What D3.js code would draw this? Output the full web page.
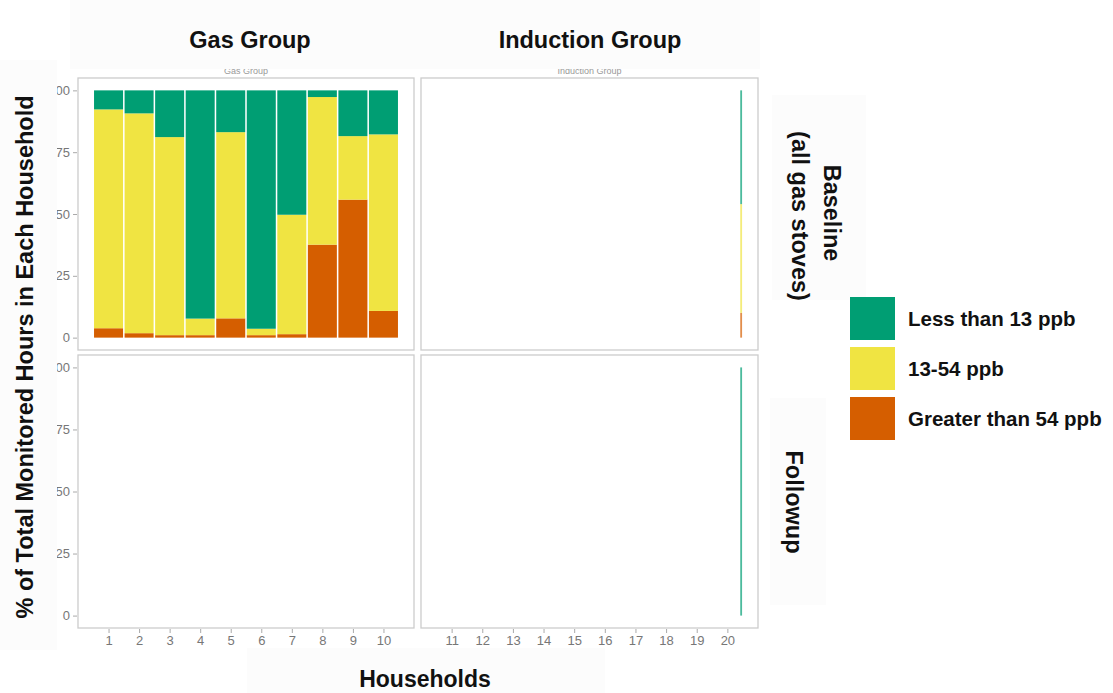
<!DOCTYPE html>
<html>
<head>
<meta charset="utf-8">
<script src="https://cdn.jsdelivr.net/npm/d3@7"></script>
<style>
  body { margin: 0; background: #fff; }
  svg { display: block; font-family: "Liberation Sans", Arial, sans-serif; }
</style>
</head>
<body>
<svg id="chart" width="1113" height="693"></svg>
<script>
// values (percent of monitored hours)
const GAS_HOUSES = [1, 2, 3, 4, 5, 6, 7, 8, 9, 10];
const GAS_LOW  = [7.7, 9.3, 18.9, 92.3, 16.9, 96.4, 50.3, 2.7, 18.5, 17.8];
const GAS_MID  = [88.5, 88.9, 80.1, 6.7, 75.3, 2.6, 48.3, 59.7, 25.7, 71.4];
const GAS_HIGH = [3.8, 1.8, 1.0, 1.0, 7.8, 1.0, 1.4, 37.6, 55.8, 10.8];

const IND_HOUSES = [20.45];
const IND_BASE_LOW = [46], IND_BASE_MID = [44], IND_BASE_HIGH = [10];
const IND_FOLLOW_LOW = [100], IND_FOLLOW_MID = [0], IND_FOLLOW_HIGH = [0];

const GAS_TICKS = [1, 2, 3, 4, 5, 6, 7, 8, 9, 10];
const IND_TICKS = [11, 12, 13, 14, 15, 16, 17, 18, 19, 20];
const Y_TICKS = [0, 25, 50, 75, 100];

const LEVELS = ["Less than 13 ppb", "13-54 ppb", "Greater than 54 ppb"];
const LEVEL_KEYS = ["low", "mid", "high"];
const COLORS = ["#009E73", "#F0E442", "#D55E00"];

const color = d3.scaleOrdinal().domain(LEVEL_KEYS).range(COLORS);

function rows(houses, low, mid, high) {
    return houses.map((h, i) => ({ house: h, low: low[i], mid: mid[i], high: high[i] }));
}

const panels = [
    { data: rows(GAS_HOUSES, GAS_LOW, GAS_MID, GAS_HIGH), x0: 78, x1: 414, y0: 78, y1: 350,
      domain: [0, 11], barW: 0.95, left: true, bottom: false, ticks: GAS_TICKS, strip: "Gas Group", alpha: 1 },
    { data: rows(IND_HOUSES, IND_BASE_LOW, IND_BASE_MID, IND_BASE_HIGH), x0: 421, x1: 758, y0: 78, y1: 350,
      domain: [10, 21], barW: 0.06, left: false, bottom: false, ticks: IND_TICKS, strip: "Induction Group", alpha: 0.7 },
    { data: [], x0: 78, x1: 414, y0: 355, y1: 628,
      domain: [0, 11], barW: 0.95, left: true, bottom: true, ticks: GAS_TICKS, alpha: 1 },
    { data: rows(IND_HOUSES, IND_FOLLOW_LOW, IND_FOLLOW_MID, IND_FOLLOW_HIGH), x0: 421, x1: 758, y0: 355, y1: 628,
      domain: [10, 21], barW: 0.06, left: false, bottom: true, ticks: IND_TICKS, alpha: 0.7 }
];

const svg = d3.select("#chart");
const stack = d3.stack().keys(["high", "mid", "low"]);

panels.forEach(p => {
    const x = d3.scaleLinear().domain(p.domain).range([p.x0, p.x1]);
    const y = d3.scaleLinear().domain([-5, 105]).range([p.y1, p.y0]);
    const g = svg.append("g");

    g.append("rect")
        .attr("x", p.x0).attr("y", p.y0)
        .attr("width", p.x1 - p.x0).attr("height", p.y1 - p.y0)
        .attr("fill", "#fff");

    const series = stack(p.data);
    g.selectAll("g.layer")
        .data(series)
        .join("g")
        .attr("class", "layer")
        .attr("fill", d => color(d.key))
        .attr("fill-opacity", p.alpha)
        .selectAll("rect")
        .data(d => d.filter(s => s[1] > s[0]))
        .join("rect")
        .attr("x", d => x(d.data.house - p.barW / 2))
        .attr("width", d => x(d.data.house + p.barW / 2) - x(d.data.house - p.barW / 2))
        .attr("y", d => y(d[1]))
        .attr("height", d => y(d[0]) - y(d[1]));

    g.append("rect")
        .attr("x", p.x0).attr("y", p.y0)
        .attr("width", p.x1 - p.x0).attr("height", p.y1 - p.y0)
        .attr("fill", "none")
        .attr("stroke", "#cccccc")
        .attr("stroke-width", 1.3);

    if (p.left) {
        const ay = g.append("g")
            .attr("transform", `translate(${p.x0 - 1},0)`)
            .call(d3.axisLeft(y).tickValues(Y_TICKS).tickSize(4).tickPadding(3));
        ay.select(".domain").remove();
        ay.selectAll("line").attr("stroke", "#aaa");
        ay.selectAll("text").attr("fill", "#777").attr("font-size", 13)
            .attr("font-family", "Liberation Sans, Arial, sans-serif");
    }
    if (p.bottom) {
        const ax = g.append("g")
            .attr("transform", `translate(0,${p.y1 + 1})`)
            .call(d3.axisBottom(x).tickValues(p.ticks).tickSize(4).tickPadding(3).tickFormat(d3.format("d")));
        ax.select(".domain").remove();
        ax.selectAll("line").attr("stroke", "#aaa");
        ax.selectAll("text").attr("fill", "#777").attr("font-size", 13)
            .attr("font-family", "Liberation Sans, Arial, sans-serif");
    }
    if (p.strip) {
        // tiny original facet strip text, mostly hidden by the pasted title box
        svg.append("text")
            .attr("x", (p.x0 + p.x1) / 2).attr("y", 74)
            .attr("text-anchor", "middle")
            .attr("font-size", 9).attr("fill", "#999")
            .text(p.strip);
    }
});

// faint boxes behind the pasted labels
const boxes = [
    [70, 0, 690, 69], [0, 60, 57, 590], [772, 95, 94, 205], [770, 398, 56, 207], [247, 648, 358, 45]
];
svg.selectAll("rect.box")
    .data(boxes)
    .join("rect")
    .attr("class", "box")
    .attr("x", d => d[0]).attr("y", d => d[1])
    .attr("width", d => d[2]).attr("height", d => d[3])
    .attr("fill", "#fcfcfc");

const bold = (sel) => sel.attr("font-weight", "bold").attr("fill", "#111");

bold(svg.append("text").attr("x", 250).attr("y", 48).attr("text-anchor", "middle")
    .attr("font-size", 23.5).text("Gas Group"));
bold(svg.append("text").attr("x", 590).attr("y", 48).attr("text-anchor", "middle")
    .attr("font-size", 23.5).text("Induction Group"));

bold(svg.append("text").attr("x", 425).attr("y", 687).attr("text-anchor", "middle")
    .attr("font-size", 23).text("Households"));

bold(svg.append("text")
    .attr("transform", "translate(25,357) rotate(-90)")
    .attr("text-anchor", "middle").attr("dy", "0.35em")
    .attr("font-size", 23.5).text("% of Total Monitored Hours in Each Household"));

bold(svg.append("text")
    .attr("transform", "translate(832,213) rotate(90)")
    .attr("text-anchor", "middle").attr("dy", "0.35em")
    .attr("font-size", 23.5).text("Baseline"));
bold(svg.append("text")
    .attr("transform", "translate(800,216) rotate(90)")
    .attr("text-anchor", "middle").attr("dy", "0.35em")
    .attr("font-size", 23.5).text("(all gas stoves)"));
bold(svg.append("text")
    .attr("transform", "translate(794,502) rotate(90)")
    .attr("text-anchor", "middle").attr("dy", "0.35em")
    .attr("font-size", 23.5).text("Followup"));

// legend
const legend = svg.append("g").attr("transform", "translate(850,297)");
const item = legend.selectAll("g")
    .data(LEVELS)
    .join("g")
    .attr("transform", (d, i) => `translate(0,${i * 50})`);
item.append("rect")
    .attr("width", 45).attr("height", 43)
    .attr("fill", (d, i) => COLORS[i]);
bold(item.append("text")
    .attr("x", 58).attr("y", 22).attr("dy", "0.35em")
    .attr("font-size", 20.5)
    .text(d => d));
</script>
</body>
</html>
